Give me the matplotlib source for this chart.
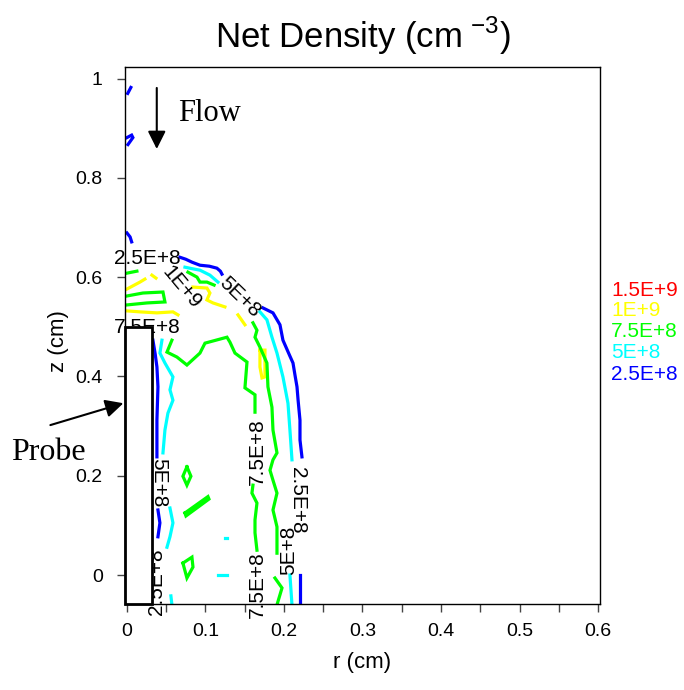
import numpy as np
import matplotlib.pyplot as plt
from matplotlib.patches import Rectangle
from matplotlib.ticker import MultipleLocator

# niveles de contorno (leyenda de la derecha)
levels = ['1.5E+9', '1E+9', '7.5E+8', '5E+8', '2.5E+8']
level_colors = ['#ff0000', '#ffff00', '#00ff00', '#00ffff', '#0000ff']

# lineas de contorno, (r, z) en cm
lines_2p5e8 = [
    [(0.005, 0.982), (0.001, 0.970)],
    [(0.0, 0.881), (0.006, 0.886), (0.0076, 0.881), (0.0013, 0.867)],
    [(0.0, 0.689), (0.004, 0.681), (0.006, 0.671)],
    [(0.0675, 0.640), (0.075, 0.636), (0.083, 0.630), (0.093, 0.624), (0.105, 0.622),
     (0.1146, 0.618), (0.119, 0.612), (0.121, 0.606)],
    [(0.1732, 0.538), (0.186, 0.528), (0.1949, 0.504), (0.1987, 0.473), (0.207, 0.443),
     (0.2115, 0.427), (0.214, 0.403), (0.2166, 0.379), (0.218, 0.352), (0.2204, 0.312),
     (0.2204, 0.272), (0.2229, 0.238)],
    [(0.2204, 0.0), (0.2204, -0.06)],
    [(0.0331, 0.473), (0.036, 0.445), (0.0382, 0.419), (0.0395, 0.379), (0.0382, 0.312),
     (0.0382, 0.238)],
    [(0.0395, 0.131), (0.042, 0.105), (0.0395, 0.077)],
]
lines_5e8 = [
    [(0.0739, 0.620), (0.083, 0.617), (0.093, 0.614), (0.1057, 0.604), (0.1159, 0.590)],
    [(0.1694, 0.530), (0.1783, 0.514), (0.1847, 0.479), (0.1911, 0.447), (0.1987, 0.399),
     (0.2051, 0.346), (0.2076, 0.292), (0.2102, 0.232)],
    [(0.2076, 0.0), (0.2102, -0.06)],
    [(0.0446, 0.473), (0.042, 0.447), (0.0484, 0.427), (0.0586, 0.399), (0.0548, 0.373),
     (0.0586, 0.352), (0.0522, 0.326), (0.0484, 0.292), (0.0459, 0.246)],
    [(0.0548, 0.135), (0.0586, 0.105), (0.0548, 0.077), (0.051, 0.056)],
    [(0.056, -0.042), (0.0573, -0.06)],
    [(0.125, 0.075), (0.127, 0.075)],
    [(0.116, 0.0), (0.127, 0.0)],
]
lines_7p5e8 = [
    [(0.0, 0.608), (0.0127, 0.612)],
    [(0.0, 0.562), (0.0204, 0.568), (0.0459, 0.570), (0.0484, 0.550), (0.0255, 0.548),
     (0.0, 0.544)],
    [(0.0777, 0.610), (0.0892, 0.600), (0.093, 0.590), (0.1019, 0.590), (0.111, 0.584)],
    [(0.1605, 0.508), (0.1656, 0.493), (0.1631, 0.479), (0.1694, 0.459), (0.1783, 0.427),
     (0.1796, 0.379), (0.1847, 0.338), (0.186, 0.292), (0.1911, 0.246), (0.186, 0.232),
     (0.1822, 0.211), (0.186, 0.191), (0.1911, 0.165), (0.186, 0.131), (0.1911, 0.097),
     (0.1911, 0.044)],
    [(0.1885, -0.006), (0.1975, -0.026), (0.1911, -0.06)],
    [(0.0573, 0.473), (0.051, 0.449), (0.0637, 0.439), (0.0764, 0.423), (0.093, 0.447),
     (0.0994, 0.467), (0.1274, 0.479), (0.1312, 0.469), (0.1376, 0.447), (0.1529, 0.429),
     (0.1503, 0.377), (0.1631, 0.363), (0.1631, 0.328)],
    [(0.1605, 0.181), (0.1592, 0.165), (0.1656, 0.145), (0.1631, 0.111), (0.1631, 0.085),
     (0.1656, 0.050)],
    [(0.0764, 0.218), (0.0815, 0.199), (0.0764, 0.181), (0.0713, 0.199), (0.0764, 0.218)],
    [(0.0739, 0.125), (0.1032, 0.158), (0.1045, 0.153), (0.0752, 0.119), (0.0739, 0.125)],
    [(0.0713, 0.024), (0.0828, 0.036), (0.0841, 0.016), (0.0764, -0.006), (0.0713, 0.024)],
]
lines_1e9 = [
    [(0.0, 0.576), (0.0166, 0.590), (0.0229, 0.596)],
    [(0.0318, 0.604), (0.037, 0.598)],
    [(0.0, 0.532), (0.0166, 0.530), (0.0382, 0.528), (0.0586, 0.530), (0.065, 0.524)],
    [(0.0841, 0.580), (0.1019, 0.578), (0.1057, 0.568), (0.1019, 0.554), (0.1096, 0.548),
     (0.1248, 0.540)],
    [(0.1414, 0.524), (0.1503, 0.504)],
    [(0.1694, 0.453), (0.1758, 0.453), (0.1758, 0.399), (0.172, 0.397), (0.1694, 0.419),
     (0.1694, 0.453)],
]
lines_1p5e9 = []

# etiquetas sobre los contornos
clabel_text = ['2.5E+8', '1E+9', '5E+8', '7.5E+8', '5E+8', '2.5E+8',
               '7.5E+8', '7.5E+8', '2.5E+8', '5E+8']

r_ticks = [0, 0.1, 0.2, 0.3, 0.4, 0.5, 0.6]
z_ticks = [0, 0.2, 0.4, 0.6, 0.8, 1]

fig = plt.figure(figsize=(6.84, 6.90), dpi=100)
ax = fig.add_axes([0.1827, 0.1246, 0.6945, 0.7783])
z_min = -0.0584

todas = [lines_1p5e9, lines_1e9, lines_7p5e8, lines_5e8, lines_2p5e8]
for segs, col in zip(todas, level_colors):
    for seg in segs:
        pts = np.array(seg)
        ax.plot(pts[:, 0], pts[:, 1], color=col, lw=2.3, solid_joinstyle='miter', zorder=2)

# posiciones de las etiquetas
lab_pos = [(0.0255, 0.638, 0), (0.069, 0.580, -50), (0.144, 0.560, -44), (0.0255, 0.4995, 0),
           (0.041, 0.185, 270), (0.038, -0.014, 90), (0.1656, 0.248, 90), (0.1656, -0.020, 90),
           (0.2166, 0.151, 270), (0.2064, 0.050, 90)]
for txt, (x, y, rot) in zip(clabel_text, lab_pos):
    ax.text(x, y, txt, fontsize=15, family='Liberation Sans', rotation=rot,
            ha='center', va='center', rotation_mode='anchor', clip_on=False, zorder=3)

# sonda
ax.add_patch(Rectangle((-0.0025, z_min), 0.0345, 0.4995 - z_min, facecolor='white',
                       edgecolor='black', lw=2, zorder=4, clip_on=False))

ax.set_xlim(-0.0025, 0.6025)
ax.set_ylim(z_min, 1.0232)

flecha = dict(arrowstyle='-|>,head_length=0.6,head_width=0.3', mutation_scale=18,
              color='black', lw=1.5, shrinkA=0, shrinkB=0)
ax.annotate('', xy=(0.038, 0.858), xytext=(0.038, 0.981), arrowprops=flecha)
ax.text(0.065, 0.930, 'Flow', fontsize=22, family='Liberation Serif', ha='left', va='center')
ax.annotate('', xy=(-0.0045, 0.346), xytext=(-0.0975, 0.302), annotation_clip=False,
            arrowprops=flecha)
ax.text(-0.100, 0.246, 'Probe', fontsize=23, family='Liberation Serif', ha='center',
        va='center', clip_on=False)

ax.set_xticks(r_ticks)
ax.set_xticklabels(['0', '0.1', '0.2', '0.3', '0.4', '0.5', '0.6'])
ax.xaxis.set_minor_locator(MultipleLocator(0.05))
ax.set_yticks(z_ticks)
ax.set_yticklabels(['0', '0.2', '0.4', '0.6', '0.8', '1'])
ax.tick_params(axis='both', which='both', direction='out', length=6, width=1,
               color='#444444', labelsize=14)
ax.tick_params(axis='x', pad=8)
ax.tick_params(axis='y', pad=10)
for lab in ax.get_xticklabels() + ax.get_yticklabels():
    lab.set_family('Liberation Sans')
for sp in ax.spines.values():
    sp.set_linewidth(1)

ax.set_xlabel('r (cm)', fontsize=16, family='Liberation Sans')
ax.set_ylabel('z (cm)', fontsize=16, family='Liberation Sans')
ax.xaxis.set_label_coords(0.5, -0.089)
ax.yaxis.set_label_coords(-0.1175, 0.49)
ax.set_title(r'Net Density (cm$^{\ \mathregular{-3}}$)', fontsize=25,
             family='Liberation Sans', pad=14)

# leyenda de niveles
ly = [290, 310, 331, 352, 374]
for txt, col, y in zip(levels, level_colors, ly):
    fig.text(611 / 684, 1 - y / 690, txt, color=col, fontsize=15,
             family='Liberation Sans', ha='left', va='center')

fig.savefig('out.png', dpi=100)
